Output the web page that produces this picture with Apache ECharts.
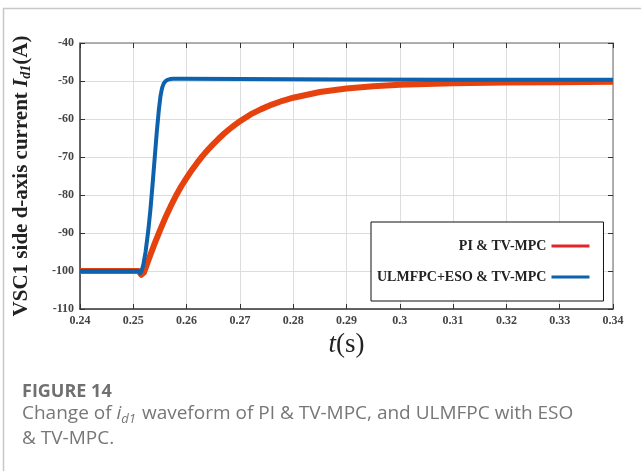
<!DOCTYPE html>
<html>
<head>
<meta charset="utf-8">
<script src="https://cdn.jsdelivr.net/npm/echarts@6/dist/echarts.min.js"></script>
<style>
  html, body { margin: 0; padding: 0; background: #fff; }
  #main { width: 641px; height: 471px; }
</style>
</head>
<body>
<div id="main"></div>
<script>
// data
var xTicks = [0.24, 0.34, 0.01];
var yTicks = [-110, -40, 10];

var tRed = [0.24, 0.251, 0.2515, 0.252, 0.253, 0.254, 0.255, 0.256, 0.257, 0.258, 0.259, 0.26, 0.261, 0.262, 0.263, 0.264, 0.265, 0.266, 0.267, 0.268, 0.269, 0.27, 0.272, 0.274, 0.276, 0.278, 0.28, 0.285, 0.29, 0.295, 0.30, 0.31, 0.32, 0.33, 0.34];
var iRed = [-100, -100, -101, -100.4, -96.5, -92.8, -89.3, -86, -83, -80.2, -77.7, -75.5, -73.4, -71.5, -69.7, -68.1, -66.6, -65.2, -63.9, -62.7, -61.6, -60.6, -58.8, -57.4, -56.2, -55.2, -54.4, -52.9, -52, -51.4, -51, -50.6, -50.4, -50.3, -50.2];

var tBlue = [0.24, 0.251, 0.2513, 0.2516, 0.2519, 0.2523, 0.2528, 0.2532, 0.2536, 0.254, 0.2544, 0.2548, 0.2551, 0.2554, 0.2557, 0.256, 0.2564, 0.2569, 0.2575, 0.259, 0.27, 0.29, 0.31, 0.34];
var iBlue = [-100, -100, -100.6, -99.8, -98.2, -95, -89.5, -84, -77.5, -70.5, -63.5, -57.5, -54, -51.8, -50.7, -50.1, -49.7, -49.5, -49.4, -49.4, -49.5, -49.6, -49.7, -49.7];

var names = ['PI & TV-MPC', 'ULMFPC+ESO & TV-MPC'];

function pairs(t, v) {
    return t.map(function (x, i) { return [x, v[i]]; });
}

var chartDom = document.getElementById('main');
var myChart = echarts.init(chartDom);
var option;

var serif = '"Liberation Serif", "DejaVu Serif", serif';
var sans = '"Open Sans", Lato, sans-serif';
var labelStyle = { fontFamily: serif, fontWeight: 'bold', fontSize: 12, color: '#444' };

option = {
    animation: false,
    grid: { left: 80, right: 28, top: 43, bottom: 162 },
    xAxis: [
        {
            type: 'value',
            min: xTicks[0], max: xTicks[1], interval: xTicks[2],
            axisLine: { show: true, onZero: false, lineStyle: { color: '#333', width: 1.5 } },
            axisTick: { inside: true, length: 5, lineStyle: { color: '#333' } },
            splitLine: { show: true, lineStyle: { color: '#ddd', width: 1 } },
            axisLabel: Object.assign({ margin: 6 }, labelStyle),
            name: '{i|t}(s)',
            nameLocation: 'middle',
            nameGap: 22,
            nameTextStyle: {
                fontFamily: serif, fontSize: 27, color: '#222',
                rich: { i: { fontFamily: serif, fontStyle: 'italic', fontSize: 27, color: '#222' } }
            }
        },
        {
            type: 'value', position: 'top',
            min: xTicks[0], max: xTicks[1], interval: xTicks[2],
            axisLine: { show: true, lineStyle: { color: '#999', width: 1.5 } },
            axisTick: { inside: true, length: 5, lineStyle: { color: '#333' } },
            axisLabel: { show: false },
            splitLine: { show: false }
        }
    ],
    yAxis: [
        {
            type: 'value',
            min: yTicks[0], max: yTicks[1], interval: yTicks[2],
            axisLine: { show: true, onZero: false, lineStyle: { color: '#333', width: 1.5 } },
            axisTick: { inside: true, length: 5, lineStyle: { color: '#333' } },
            splitLine: { show: true, lineStyle: { color: '#ddd', width: 1 } },
            axisLabel: Object.assign({ margin: 6 }, labelStyle),
            name: 'VSC1 side d-axis current {i|I}{s|d1}(A)',
            nameLocation: 'middle',
            nameGap: 47,
            nameTextStyle: {
                fontFamily: serif, fontWeight: 'bold', fontSize: 21, color: '#222',
                rich: {
                    i: { fontFamily: serif, fontWeight: 'bold', fontStyle: 'italic', fontSize: 21, color: '#222' },
                    s: { fontFamily: serif, fontWeight: 'bold', fontStyle: 'italic', fontSize: 14, color: '#222', verticalAlign: 'bottom', padding: [9, 0, 0, 0] }
                }
            }
        },
        {
            type: 'value', position: 'right',
            min: yTicks[0], max: yTicks[1], interval: yTicks[2],
            axisLine: { show: true, lineStyle: { color: '#999', width: 1.5 } },
            axisTick: { inside: true, length: 5, lineStyle: { color: '#333' } },
            axisLabel: { show: false },
            splitLine: { show: false }
        }
    ],
    legend: {
        data: [
            { name: names[0], itemStyle: { color: '#e3262a' } },
            { name: names[1], itemStyle: { color: '#0d62ad' } }
        ],
        orient: 'vertical',
        align: 'right',
        left: 371, top: 222,
        padding: [17, 14, 17, 6],
        itemGap: 17,
        itemWidth: 38,
        itemHeight: 3,
        icon: 'rect',
        backgroundColor: '#fff',
        borderColor: '#111',
        borderWidth: 1,
        textStyle: {
            fontFamily: serif, fontWeight: 'bold', fontSize: 14, color: '#222',
            width: 168, align: 'right'
        }
    },
    series: [
        {
            name: names[0],
            type: 'line',
            data: pairs(tRed, iRed),
            showSymbol: false,
            color: '#e6420e',
            lineStyle: { width: 6, color: '#e6420e', join: 'round' },
            z: 2
        },
        {
            name: names[1],
            type: 'line',
            data: pairs(tBlue, iBlue),
            showSymbol: false,
            color: '#0d62ad',
            lineStyle: { width: 4, color: '#0d62ad', join: 'round' },
            z: 3
        }
    ],
    graphic: [
        {
            type: 'polyline',
            shape: { points: [[3.5, 471], [3.5, 8.5], [641, 8.5]] },
            style: { stroke: '#c8c8c8', lineWidth: 1.5, fill: null }
        },
        {
            type: 'text', left: 22, top: 383,
            style: { text: 'FIGURE 14', font: 'bold 18px ' + sans, fill: '#707070' }
        },
        {
            type: 'text', left: 22, top: 401,
            style: {
                text: 'Change of {i|i}{s|d1} waveform of PI & TV-MPC, and ULMFPC with ESO\n& TV-MPC.',
                font: '19px ' + sans,
                fill: '#777',
                lineHeight: 25,
                rich: {
                    i: { font: 'italic 19px ' + sans, fill: '#777' },
                    s: { font: 'italic 13px ' + sans, fill: '#777', verticalAlign: 'bottom', padding: [7, 1, 0, 0] }
                }
            }
        }
    ]
};

option && myChart.setOption(option);
</script>
</body>
</html>
